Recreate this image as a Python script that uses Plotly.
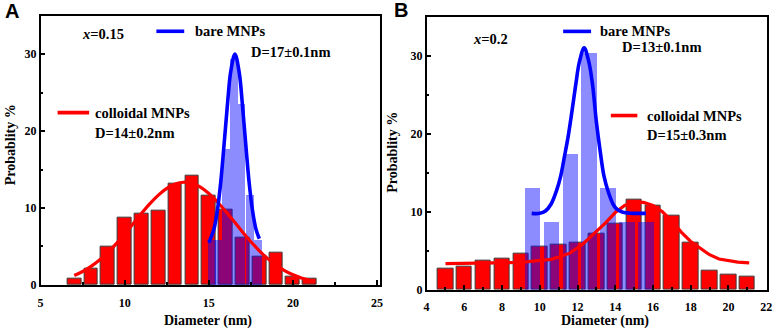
import plotly.graph_objects as go

# ---------------- Panel A (x = 0.15) ----------------
a_col_x = [7, 8, 9, 10, 11, 12, 13, 14, 15, 16, 17, 18, 19, 20, 21]
a_col_y = [0.8, 2.1, 5.0, 8.7, 9.2, 9.7, 13.1, 14.2, 11.6, 9.8, 6.1, 3.7, 4.2, 1.1, 0.8]
a_bare_x = [15.15, 15.55, 16.0, 16.47, 16.92, 17.43, 17.9]
a_bare_y = [5.88, 5.88, 17.65, 29.41, 23.53, 11.76, 5.88]
a_colfit_x = [7.0, 7.5, 8.0, 8.5, 9.0, 9.5, 10.0, 10.5, 11.0, 11.5, 12.0, 12.5, 13.0, 13.5,
              14.0, 14.5, 15.0, 15.5, 16.0, 16.5, 17.0, 17.5, 18.0, 18.5, 19.0, 19.5, 20.0, 20.5, 21.0]
a_colfit_y = [1.23, 1.75, 2.41, 3.24, 4.23, 5.37, 6.63, 7.96, 9.30, 10.57, 11.68, 12.56, 13.13, 13.35,
              13.2, 12.7, 11.88, 10.81, 9.56, 8.24, 6.89, 5.61, 4.44, 3.42, 2.57, 1.87, 1.32, 0.91, 0.61]
a_barefit_x = [15.0, 15.3, 15.5, 15.7, 15.9, 16.1, 16.3, 16.55, 16.8, 17.0, 17.2, 17.4, 17.6, 17.8, 18.0]
a_barefit_y = [5.5, 7.25, 9.6, 13.2, 18.1, 23.3, 27.7, 30.0, 27.7, 23.3, 18.1, 13.2, 9.6, 7.25, 6.0]

# ---------------- Panel B (x = 0.2) ----------------
b_col_x = [5, 6, 7, 8, 9, 10, 11, 12, 13, 14, 15, 16, 17, 18, 19, 20, 21]
b_col_y = [2.75, 3.0, 3.8, 4.0, 4.6, 5.5, 5.8, 6.1, 7.2, 8.5, 11.5, 10.75, 9.5, 6.1, 2.4, 1.96, 1.67]
b_bare_x = [9.6, 10.6, 11.6, 12.6, 13.6, 14.6, 15.6]
b_bare_y = [13.04, 8.70, 17.39, 30.43, 13.04, 8.70, 8.70]
b_colfit_x = [5.0, 6.0, 7.0, 8.0, 9.0, 9.5, 10.0, 10.6, 11.0, 11.6, 12.3, 13.0, 13.5, 14.0, 14.5,
              15.0, 15.5, 16.0, 16.5, 17.0, 17.5, 18.0, 18.5, 19.0, 19.5, 20.0, 20.5, 21.1]
b_colfit_y = [3.35, 3.38, 3.42, 3.45, 3.5, 3.65, 3.75, 3.9, 4.2, 4.7, 5.9, 7.4, 8.6, 9.9, 10.8,
              11.2, 11.2, 10.8, 10.0, 8.8, 7.4, 6.2, 5.3, 4.5, 3.95, 3.7, 3.55, 3.45]
b_barefit_x = [9.57, 10.0, 10.3, 10.6, 10.9, 11.1, 11.3, 11.5, 11.7, 11.9, 12.1, 12.35, 12.6, 12.8,
               13.0, 13.2, 13.4, 13.65, 13.9, 14.1, 14.4, 14.8, 15.62]
b_barefit_y = [9.8, 9.8, 10.1, 11.0, 12.8, 14.5, 17.0, 19.6, 22.8, 26.2, 29.2, 31.0, 29.2, 26.2,
               21.5, 17.8, 14.6, 12.4, 10.9, 10.3, 9.95, 9.82, 9.8]

RED = "#ff0000"
BLUE_BAR = "rgba(10,10,255,0.47)"
BLUE_LINE = "#0000ff"
SERIF = "Liberation Serif"
SANS = "Liberation Sans"

fig = go.Figure()

def add_panel(xa, ya, col_x, col_y, col_w, bare_x, bare_y, bare_w,
              colfit_x, colfit_y, col_shape, barefit_x, barefit_y):
    fig.add_trace(go.Bar(x=col_x, y=col_y, width=col_w, marker_color=RED,
                         marker_line=dict(color="#3a3a3a", width=1),
                         xaxis=xa, yaxis=ya, showlegend=False, name="colloidal MNPs"))
    fig.add_trace(go.Scatter(x=colfit_x, y=colfit_y, mode="lines",
                             line=dict(color=RED, width=3.2, shape=col_shape),
                             xaxis=xa, yaxis=ya, showlegend=False, name="colloidal fit"))
    fig.add_trace(go.Bar(x=bare_x, y=bare_y, width=bare_w, marker_color=BLUE_BAR,
                         marker_line=dict(width=0),
                         xaxis=xa, yaxis=ya, showlegend=False, name="bare MNPs"))
    fig.add_trace(go.Scatter(x=barefit_x, y=barefit_y, mode="lines",
                             line=dict(color=BLUE_LINE, width=3.6, shape="spline"),
                             xaxis=xa, yaxis=ya, showlegend=False, name="bare fit"))

add_panel("x", "y", a_col_x, a_col_y, 0.82, a_bare_x, a_bare_y, 0.45,
          a_colfit_x, a_colfit_y, "spline", a_barefit_x, a_barefit_y)
add_panel("x2", "y2", b_col_x, b_col_y, 0.82, b_bare_x, b_bare_y, 0.82,
          b_colfit_x, b_colfit_y, "linear", b_barefit_x, b_barefit_y)

axis_common = dict(showline=True, linecolor="black", linewidth=1.5, mirror=True,
                   ticks="inside", ticklen=5, tickwidth=1.5, tickcolor="black",
                   showgrid=False, zeroline=False,
                   tickfont=dict(family=SERIF, size=12, color="black", weight="bold"))

fig.update_layout(
    width=782, height=336, margin=dict(l=0, r=0, t=0, b=0),
    paper_bgcolor="white", plot_bgcolor="white", barmode="overlay", bargap=0,
    font=dict(family=SERIF),
    xaxis=dict(domain=[38/782, 381/782], range=[5, 25.18], dtick=5, tick0=5,
               ticklabelstandoff=6,
               minor=dict(dtick=2.5, ticks="inside", ticklen=3, tickcolor="black"),
               anchor="y", **axis_common),
    yaxis=dict(domain=[1-291/336, 1-16/336], range=[0, 35], dtick=10,
               minor=dict(dtick=5, ticks="inside", ticklen=3, tickcolor="black"),
               anchor="x", **axis_common),
    xaxis2=dict(domain=[428/782, 772/782], range=[4, 22.05], dtick=2, tick0=4,
                ticklabelstandoff=5,
                minor=dict(dtick=1, ticks="inside", ticklen=3, tickcolor="black"),
                anchor="y2", **axis_common),
    yaxis2=dict(domain=[1-296/336, 1-17/336], range=[0, 35], dtick=10,
                minor=dict(dtick=5, ticks="inside", ticklen=3, tickcolor="black"),
                anchor="x2", **axis_common),
)

ann = []
def text(xref, yref, x, y, s, size=14.5, xanchor="left", angle=0, family=SERIF):
    ann.append(dict(xref=xref, yref=yref, x=x, y=y, text=s, showarrow=False,
                    xanchor=xanchor, yanchor="middle", textangle=angle,
                    font=dict(family=family, size=size, color="black", weight="bold")))

# Panel A texts
text("x domain", "y domain", 0.117, 0.931, "<i>x</i>=0.15")
text("x domain", "y domain", 0.449, 0.942, "bare MNPs")
text("x domain", "y domain", 0.615, 0.865, "D=17±0.1nm")
text("x domain", "y domain", 0.155, 0.640, "colloidal MNPs")
text("x domain", "y domain", 0.155, 0.564, "D=14±0.2nm")
# Panel B texts
text("x2 domain", "y2 domain", 0.131, 0.918, "<i>x</i>=0.2")
text("x2 domain", "y2 domain", 0.503, 0.946, "bare MNPs")
text("x2 domain", "y2 domain", 0.567, 0.889, "D=13±0.1nm")
text("x2 domain", "y2 domain", 0.642, 0.638, "colloidal MNPs")
text("x2 domain", "y2 domain", 0.642, 0.566, "D=15±0.3nm")
# Axis titles
text("paper", "paper", 207/782, 1-327.5/336, "Diameter (nm)", size=14, xanchor="center")
text("paper", "paper", 608/782, 1-327.5/336, "Diameter (nm)", size=14, xanchor="center")
text("paper", "paper", 7.5/782, 1-148/336, "Probablity %", size=14, xanchor="center", angle=-90)
text("paper", "paper", 394/782, 1-155/336, "Probablity %", size=14, xanchor="center", angle=-90)
# Panel letters
text("paper", "paper", 9.5/782, 1-11/336, "A", size=20, xanchor="center", family=SANS)
text("paper", "paper", 402.5/782, 1-10/336, "B", size=20, xanchor="center", family=SANS)
fig.update_layout(annotations=ann)

# legend line samples
shapes = [
    dict(type="line", xref="x domain", yref="y domain", x0=0.341, x1=0.423, y0=0.942, y1=0.942,
         line=dict(color=BLUE_LINE, width=3.6)),
    dict(type="line", xref="x domain", yref="y domain", x0=0.050, x1=0.143, y0=0.640, y1=0.640,
         line=dict(color=RED, width=3.6)),
    dict(type="line", xref="x2 domain", yref="y2 domain", x0=0.401, x1=0.483, y0=0.946, y1=0.946,
         line=dict(color=BLUE_LINE, width=3.6)),
    dict(type="line", xref="x2 domain", yref="y2 domain", x0=0.541, x1=0.619, y0=0.638, y1=0.638,
         line=dict(color=RED, width=3.6)),
]
fig.update_layout(shapes=shapes)

fig.write_html("out.html", config={"displayModeBar": False},
               post_script="document.body.style.margin='0px';")
